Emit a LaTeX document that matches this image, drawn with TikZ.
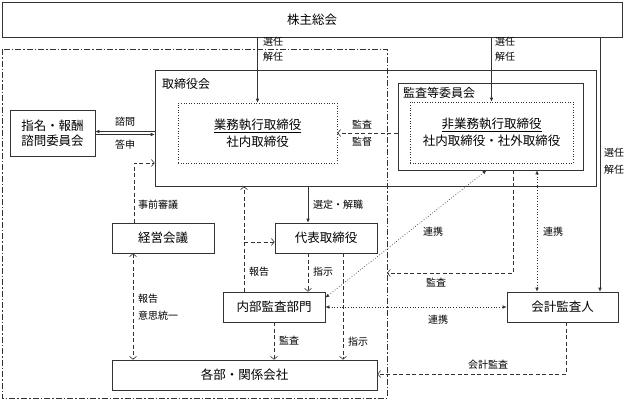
\documentclass[tikz,border=0pt]{standalone}
\usepackage{fontspec}
\setmainfont{Noto Sans CJK JP}
\usetikzlibrary{arrows.meta}

\begin{document}
\begin{tikzpicture}[x=1pt, y=-1pt,
        box/.style={draw,line width=0.6pt,black!80,text=black,
      inner sep=0pt,font=\fontsize{12.5}{15}\selectfont,align=center},
        dotbox/.style={draw,dotted,line width=0.6pt,black!80,text=black,inner sep=0pt,
      font=\fontsize{12.5}{17}\selectfont,align=center},
        lbl/.style={inner sep=0pt,font=\fontsize{10}{12}\selectfont,text=black},
        title/.style={inner sep=0pt,font=\fontsize{12}{14}\selectfont,anchor=west},
        solidline/.style={line width=0.6pt,black!80},
        solidarrow/.style={solidline,-{Latex[length=4pt,width=3.5pt]}},
        dashedarrow/.style={solidline,dashed,dash pattern=on 4pt off 2.5pt,
      -{Straight Barb[length=3pt,width=7pt]}},
        dashedboth/.style={dashedarrow,{Straight Barb[length=3pt,width=7pt]}-{Straight Barb[length=3pt,width=7pt]}},
        dottedboth/.style={solidline,line width=0.7pt,dotted,
      {Latex[length=4pt,width=3.5pt]}-{Latex[length=4pt,width=3.5pt]}}]

    \useasboundingbox (0,0) rectangle (625,402);

    % executive area
    \draw [solidline,dash pattern=on 6pt off 2pt on 1.5pt off 2pt] (2,49) rectangle (387,398);

    \node [box,minimum width=620,minimum height=35] (gm) at (312,19.5) {株主総会};
    \node [box,minimum width=441,minimum height=116] (board) at (375.5,128) {};
    \node [title] (boardlbl) at (162,84) {取締役会};
    \node [dotbox,minimum width=159,minimum height=60] (exec) at (257.5,133)
          {\underline{業務執行取締役}\\社内取締役};
    \node [box,fill=white,minimum width=185,minimum height=87] (audcom) at (490.5,126.5) {};
    \node [title] (audcomlbl) at (403,93) {監査等委員会};
    \node [dotbox,minimum width=163,minimum height=61] (nonexec) at (491.5,132.5)
          {\underline{非業務執行取締役}\\社内取締役・社外取締役};
    \node [box,minimum width=85,minimum height=46] (nomcom) at (52.5,133) {指名・報酬\\諮問委員会};
    \node [box,fill=white,minimum width=102,minimum height=30] (mgmt) at (163,238) {経営会議};
    \node [box,fill=white,minimum width=102,minimum height=30] (rep) at (326,238) {代表取締役};
    \node [box,fill=white,minimum width=102,minimum height=30] (intaud) at (274,307) {内部監査部門};
    \node [box,fill=white,minimum width=265,minimum height=30] (depts) at (244.5,375) {各部・関係会社};
    \node [box,fill=white,minimum width=111,minimum height=30] (extaud) at (562.5,307) {会計監査人};

    \coordinate (brk) at (244,242);
    \coordinate (audend) at (387,273);

    % appointments
    \draw [solidarrow] (gm.south -| exec.north) -- (exec.north);
    \draw [solidarrow] (gm.south -| nonexec.north) -- (nonexec.north);
    \draw [solidarrow] (gm.south -| 600,0) -- (extaud.north -| 600,0);
    \draw [solidarrow] (board.south -| 308,0) -- (rep.north -| 308,0);

    \node [lbl,anchor=west] at (263,42) {選任};
    \node [lbl,anchor=west] at (263,57) {解任};
    \node [lbl,anchor=west] at (495,42) {選任};
    \node [lbl,anchor=west] at (495,57) {解任};
    \node [lbl,anchor=west] at (604,153) {選任};
    \node [lbl,anchor=west] at (604,170) {解任};
    \node [lbl,anchor=west] at (313,205) {選定・解職};

    % committee
    \draw [solidarrow] ([yshift=1.5pt]board.west |- nomcom.east) -- ([yshift=1.5pt]nomcom.east);
    \draw [solidarrow] ([yshift=-1.5pt]nomcom.east) -- ([yshift=-1.5pt]board.west |- nomcom.east);
    \node [lbl] at (125,122) {諮問};
    \node [lbl] at (125,145) {答申};

    % audit committee
    \draw [dashedarrow] (audcom.west |- exec.east) -- (exec.east);
    \node [lbl] at (362,125) {監査};
    \node [lbl] at (362,142) {監督};
    \draw [dashedarrow] (audcom.south -| 513,0) -- (513,273) -- (audend);
    \node [lbl] at (436,283) {監査};
    \draw [dottedboth] ([xshift=-4pt]audcom.south) -- ([yshift=-6pt]intaud.north east);
    \node [lbl] at (433,232) {連携};
    \draw [dottedboth] (audcom.south -| 537,0) -- (extaud.north -| 537,0);
    \node [lbl,anchor=west] at (543,232) {連携};

    % management
    \draw [dashedarrow] (mgmt.north -| 134,0) -- (134,163) -- (board.west |- 0,163);
    \node [lbl,anchor=west] at (138,205) {事前審議};
    \draw [dashedboth] (mgmt.south -| 133,0) -- (depts.north -| 133,0);
    \node [lbl,anchor=west] at (138,299) {報告};
    \node [lbl,anchor=west] at (138,316) {意思統一};

    % internal audit
    \draw [dashedarrow] (intaud.north -| brk) -- (board.south -| brk);
    \draw [dashedarrow] (brk) -- (rep.west |- brk);
    \node [lbl,anchor=west] at (249,272) {報告};
    \draw [dashedarrow] (rep.south -| 308,0) -- (intaud.north -| 308,0);
    \node [lbl,anchor=west] at (313,272) {指示};
    \draw [dashedarrow] (rep.south -| 343,0) -- (depts.north -| 343,0);
    \node [lbl,anchor=west] at (348,342) {指示};
    \draw [dashedarrow] (intaud.south) -- (depts.north -| intaud.south);
    \node [lbl,anchor=west] at (279,341) {監査};

    % external auditor
    \draw [dottedboth] (intaud.east) -- (extaud.west);
    \node [lbl] at (438,320) {連携};
    \draw [dashedarrow] (extaud.south -| 566,0) -- (566,374) -- (depts.east |- 0,374);
    \node [lbl] at (488,365) {会計監査};
\end{tikzpicture}
\end{document}
